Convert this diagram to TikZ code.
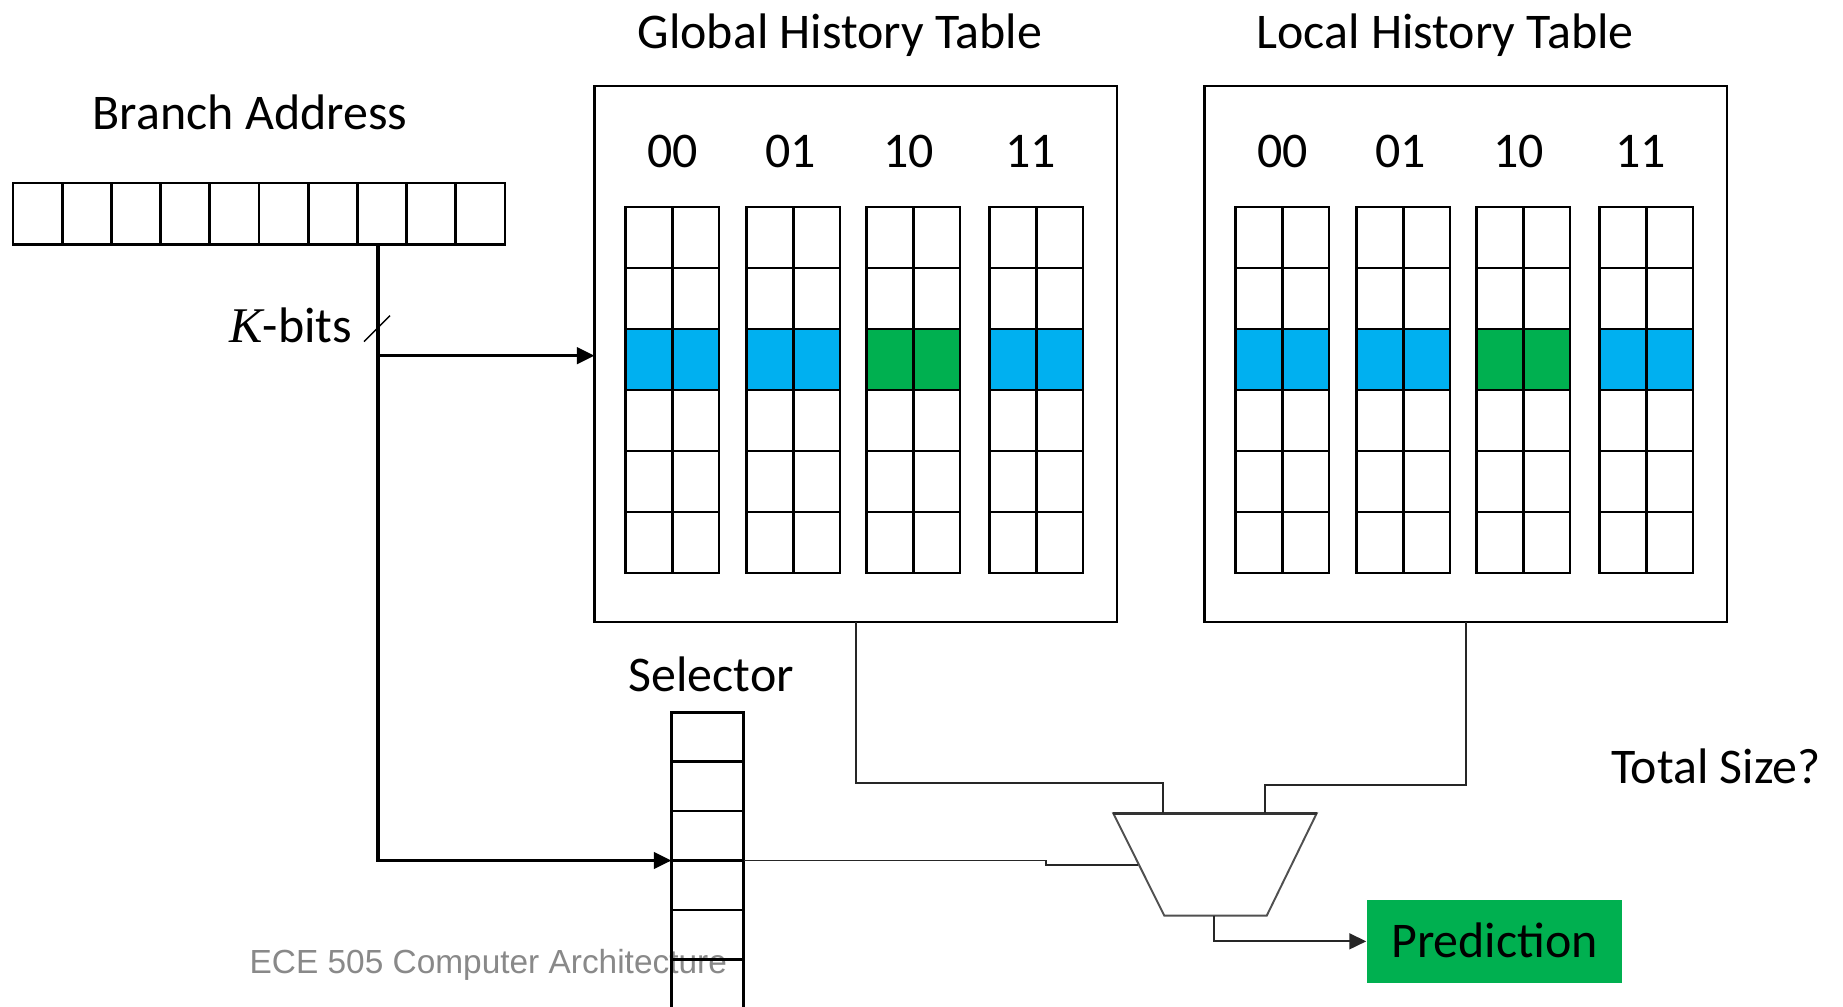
\documentclass[tikz,border=0pt]{standalone}
\usepackage{fontspec}
\setmainfont{Carlito}
\newfontfamily\kfont{Liberation Serif}
\newfontfamily\arialfont{Liberation Sans}
\usetikzlibrary{arrows.meta,calc}
\definecolor{cblue}{HTML}{00B0F0}
\definecolor{cgreen}{HTML}{00B050}
\definecolor{footgray}{RGB}{137,137,137}
\definecolor{wirec}{RGB}{38,38,38}
\definecolor{muxc}{RGB}{80,80,80}
\begin{document}
\begin{tikzpicture}[x=0.01cm,y=-0.01cm,
  lbl/.style={inner sep=0pt, outer sep=0pt, anchor=base, font=\fontsize{14.2pt}{17pt}\selectfont},
  cell/.style={draw=black, line width=0.75pt, inner sep=0pt, outer sep=0pt, minimum width=0.465cm, minimum height=0.61cm},
  hl/.code={\ifnum\r=2\relax\tikzset{fill=\col}\fi},
  addr/.style={draw=black, line width=0.75pt, inner sep=0pt, outer sep=0pt, minimum width=0.492cm, minimum height=0.615cm},
  selcell/.style={draw=black, line width=0.75pt, inner sep=0pt, outer sep=0pt, minimum width=0.72cm, minimum height=0.494cm},
  tablebox/.style={draw=black, line width=0.7pt, inner sep=0pt, outer sep=0pt, minimum width=5.22cm, minimum height=5.36cm},
  bus/.style={line width=1pt, -{Triangle[length=5pt,width=4.6pt]}},
  wirest/.style={draw=wirec, line width=0.55pt},
  tip/.style={-{Triangle[length=4.8pt,width=4.5pt]}},
]
\fill[white] (0,0) rectangle (1843,1007);
\useasboundingbox (0,0) rectangle (1843,1007);
\clip (0,0) rectangle (1843,1007);

% footer text (under the selector)
\node[inner sep=0pt, anchor=base west, font=\arialfont\fontsize{9.5pt}{11pt}\selectfont, text=footgray] (foot) at (249,973.3) {ECE 505 Computer Architecture};

% titles
\node[lbl] (gtitle) at (840,48.3) {Global History Table};
\node[lbl] (ltitle) at (1445,48.3) {Local History Table};
\node[lbl] (batitle) at (250,129.3) {Branch Address};
\node[lbl] (seltitle) at (711.3,691.7) {Selector};
\node[lbl, anchor=base east] (kbits) at (352,342.3) {{\kfont\itshape K}-bits};
\node[lbl, anchor=base west] (total) at (1611,784) {Total Size?};

% branch address register
\foreach \i in {1,...,10}
  \node[addr] (ba\i) at ({37.6+49.2*(\i-1)},213.75) {};

% tables
\node[tablebox] (ght) at (855.7,354) {};
\node[tablebox] (lht) at (1465.8,354) {};
\foreach \t/\lx in {g/594.8,l/1204.8}{
  \foreach \c/\off/\lab/\col/\d in {0/31/00/cblue/0, 1/152/01/cblue/-3, 2/272/10/cgreen/-5, 3/395/11/cblue/-6}{
    \node[lbl] (\t lab\c) at ({\lx+\off+46.5+\d},167.3) {\lab};
    \foreach \r in {0,...,5}{
      \foreach \k in {0,1}{
        \node[cell, hl] (\t\c-\r-\k) at ({\lx+\off+23.25+46.5*\k},{237.5+61*\r}) {};
      }
    }
  }
}

% selector
\foreach \i in {0,...,5}
  \node[selcell] (sel\i) at (707.5,{737+49.4*\i}) {};

% prediction
\node[fill=cgreen, minimum width=2.55cm, minimum height=0.827cm, inner sep=0pt, text height=0.32cm, text depth=0pt, font=\fontsize{14.2pt}{17pt}\selectfont] (pred) at (1494.5,941.35) {Prediction};

% mux
\coordinate (mtl) at (1113.3,813.3);
\coordinate (mtr) at (1316.7,813.3);
\coordinate (mbr) at (1266.7,915.7);
\coordinate (mbl) at (1164.3,915.7);
\coordinate (min1) at (1163.3,813.3);
\coordinate (min2) at (1265,813.3);
\coordinate (msel) at (1138.3,865);
\coordinate (mout) at (1214.3,915.7);
\draw[draw=muxc, line width=0.55pt] (mtl) -- (mtr) -- (mbr) -- (mbl) -- cycle;
\draw[draw=black!80, line width=0.75pt] (mtl) -- (mtr);

% K-bits bus
\coordinate (kt) at ($(ba8.south)+(-4,0)$);
\coordinate (kj) at ($(kt)+(0,111.2)$);
\draw[bus] (kt) |- (sel2.south west);
\draw[bus] (kj) -- (kj -| ght.west);
\coordinate (s1) at (364,341.7);
\coordinate (s2) at (390,315.7);
\draw[line width=0.4pt] (s1) -- (s2);

% wires to mux
\draw[wirest] (ght.south) -- ++(0,160.7) -| (min1);
\draw[wirest] (lht.south) -- ++(0,163) -| (min2);
\draw[wirest] (sel2.south east) -- ++(302,0) |- (msel);
\draw[wirest, tip] (mout) |- (pred.west);
\end{tikzpicture}
\end{document}
